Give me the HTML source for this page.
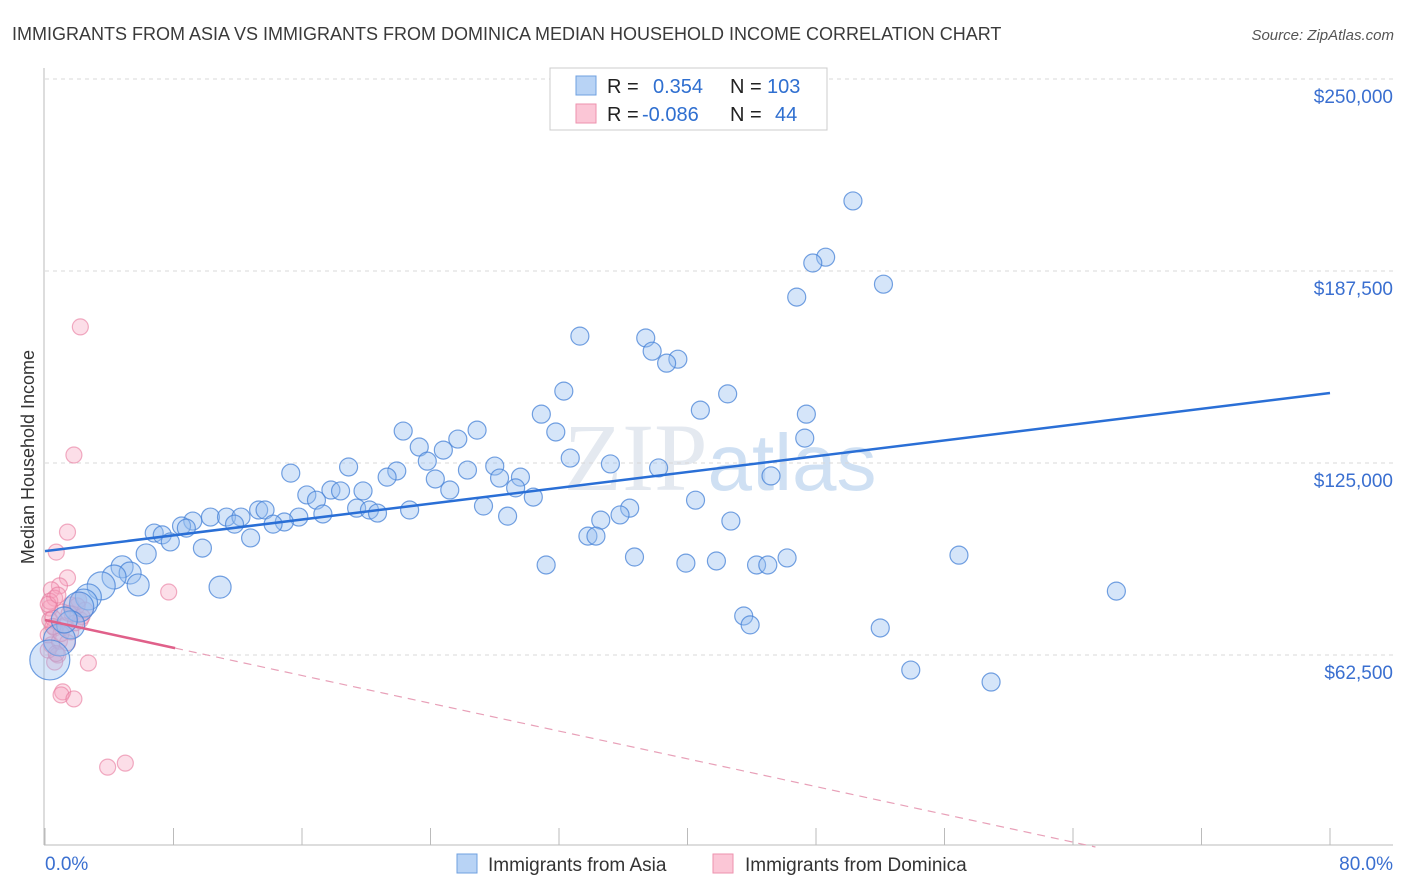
<!DOCTYPE html>
<html><head><meta charset="utf-8">
<style>
body{margin:0;background:#fff;font-family:"Liberation Sans",sans-serif;}
#wrap{position:relative;width:1406px;height:892px;overflow:hidden;}
svg{position:absolute;left:0;top:0}
</style></head>
<body>
<div id="wrap">
<svg id="chart" width="1406" height="892">
  <text x="12" y="40" font-size="18" fill="#3a3a3a">IMMIGRANTS FROM ASIA VS IMMIGRANTS FROM DOMINICA MEDIAN HOUSEHOLD INCOME CORRELATION CHART</text>
  <text x="1394" y="40" font-size="15" fill="#555" font-style="italic" text-anchor="end">Source: ZipAtlas.com</text>
  <text x="720" y="490" font-size="96" fill="#e4e9f0" text-anchor="middle" font-family="Liberation Serif,serif">ZIP<tspan fill="#cfe0f3" font-family="Liberation Sans,sans-serif" font-size="80">atlas</tspan></text>
  <text transform="translate(34,457) rotate(-90)" font-size="18" fill="#333" text-anchor="middle">Median Household Income</text>
  <g id="grid"></g><g id="axes"></g><g id="marks"></g>
  <g>
    <rect x="550" y="68" width="277" height="62" fill="#fff" stroke="#ccc"/>
    <rect x="576" y="76" width="20" height="19" fill="#b8d3f5" stroke="#6fa0e0"/>
    <rect x="576" y="104" width="20" height="19" fill="#fbc6d6" stroke="#ee92ae"/>
    <text x="607" y="93" font-size="20" fill="#222">R = <tspan x="653" fill="#2f6fd0">0.354</tspan><tspan x="730" fill="#222">N = </tspan><tspan x="767" fill="#2f6fd0">103</tspan></text>
    <text x="607" y="121" font-size="20" fill="#222">R = <tspan x="642" fill="#2f6fd0">-0.086</tspan><tspan x="730" fill="#222">N = </tspan><tspan x="775" fill="#2f6fd0">44</tspan></text>
  </g>
  <g>
    <rect x="457" y="854" width="20" height="19" fill="#b8d3f5" stroke="#6fa0e0"/>
    <text x="488" y="871" font-size="19" fill="#333">Immigrants from Asia</text>
    <rect x="713" y="854" width="20" height="19" fill="#fbc6d6" stroke="#ee92ae"/>
    <text x="745" y="871" font-size="19" fill="#333">Immigrants from Dominica</text>
  </g>
</svg>
</div>
<script>
const xTicks=[0,8,16,24,32,40,48,56,64,72,80];
const yTicks=[62.5,125,187.5,250];
const yTickLabels=["$62,500","$125,000","$187,500","$250,000"];
const xLabels=["0.0%","80.0%"];
const asiaX=[50.3,48.6,47.8,52.2,46.8,33.3,37.4,37.8,39.4,38.7,32.3,42.5,40.8,47.4,30.9,22.3,26.9,31.8,47.3,25.7,23.3,24.8,23.8,32.7,18.9,28.0,35.2,38.2,15.3,21.9,21.3,26.3,24.3,28.3,29.6,45.2,17.8,18.4,19.8,25.2,29.3,16.3,16.9,30.4,40.5,27.3,36.4,19.4,20.2,20.7,22.7,13.3,13.7,17.3,35.8,28.8,10.3,11.3,12.2,15.8,9.2,34.6,42.7,14.9,11.8,14.2,8.5,8.8,6.8,7.3,33.8,34.3,12.8,7.8,9.8,6.3,56.9,36.7,31.2,39.9,41.8,46.2,44.3,45.0,4.8,5.3,4.3,10.9,5.8,3.5,66.7,2.7,2.4,2.1,43.5,43.9,52.0,1.6,0.9,0.3,53.9,58.9,1.2];
const asiaY=[210.3,192.0,190.1,183.2,179.0,166.3,165.7,161.4,158.8,157.5,148.4,147.5,142.2,140.9,140.9,135.4,135.7,135.1,133.1,132.8,130.2,129.2,125.6,126.6,123.7,124.0,124.7,123.4,121.7,122.4,120.4,122.7,119.8,120.1,120.4,120.8,116.2,115.9,115.9,116.2,116.9,114.6,112.9,113.9,112.9,111.0,110.3,110.3,109.7,108.7,109.7,109.7,109.7,108.4,108.1,107.7,107.4,107.4,107.4,107.4,106.1,106.4,106.1,105.8,105.1,105.1,104.5,103.8,102.2,101.6,101.2,101.2,100.6,99.3,97.3,95.4,95.0,94.4,91.8,92.4,93.1,94.1,91.8,91.8,91.2,89.2,87.9,84.6,85.3,85.0,83.3,81.4,79.4,78.1,75.2,72.3,71.3,72.3,67.4,60.9,57.6,53.7,73.9];
const asiaSize=[9,9,9,9,9,9,9,9,9,9,9,9,9,9,9,9,9,9,9,9,9,9,9,9,9,9,9,9,9,9,9,9,9,9,9,9,9,9,9,9,9,9,9,9,9,9,9,9,9,9,9,9,9,9,9,9,9,9,9,9,9,9,9,9,9,9,9,9,9,9,9,9,9,9,9,10,9,9,9,9,9,9,9,9,11,11,12,11,11,14,9,13,14,15,9,9,9,14,16,20,9,9,13];
const domX=[2.2,1.8,1.4,0.7,1.4,0.9,0.4,7.7,0.6,2.1,1.6,0.3,1.1,0.3,1.7,0.6,0.2,1.6,0.4,0.8,0.6,2.7,1.1,1.0,1.8,3.9,5.0,0.2,2.2,2.5,0.5,1.2,0.9,2.0,0.3,1.4,0.7,2.3,1.0,0.5,1.5,0.2,0.8,1.9];
const domY=[169.3,127.6,102.5,96.0,87.6,85.0,83.7,83.0,81.0,80.4,78.8,77.8,76.5,73.9,75.8,71.3,69.0,70.0,65.8,62.5,60.2,59.9,50.5,49.5,48.2,26.0,27.3,64.1,73.9,77.1,74.5,72.0,67.0,78.5,80.0,66.5,63.0,75.0,69.5,71.8,76.0,79.0,82.0,73.0];
const blueTrend=[96.3,147.8];
const pinkTrend=[73.9,-1.13];
const X0=45,X1=1330,YB=847,YS=576/187.5;
function sx(v){return X0+v*(X1-X0)/80;}
function sy(v){return YB-v*YS;}
const NS="http://www.w3.org/2000/svg";
function mk(tag,attrs,parent){const e=document.createElementNS(NS,tag);for(const k in attrs)e.setAttribute(k,attrs[k]);parent.appendChild(e);return e;}
const grid=document.getElementById('grid'),axes=document.getElementById('axes'),marks=document.getElementById('marks');
yTicks.forEach((t,i)=>{
  const l=mk('line',{x1:45,x2:1393,y1:sy(t),y2:sy(t),stroke:'#d8d8d8','stroke-dasharray':'4,4'},grid);
  
  
  const tx=mk('text',{x:1393,y:sy(t)+24,'font-size':19,fill:'#3a6fd0','text-anchor':'end'},axes);
  tx.textContent=yTickLabels[i];
  
  
});
const ax=mk('line',{x1:44,x2:44,y1:68,y2:845,stroke:'#bbb'},axes);


const bx=mk('line',{x1:44,x2:1393,y1:845,y2:845,stroke:'#bbb'},axes);


xTicks.forEach(t=>{
  const l=mk('line',{x1:sx(t),x2:sx(t),y1:828,y2:845,stroke:'#bbb'},axes);
  
  
});
const xl0=mk('text',{x:45,y:870,'font-size':19,fill:'#3a6fd0'},axes);xl0.textContent=xLabels[0];


const xl1=mk('text',{x:1393,y:870,'font-size':19,fill:'#3a6fd0','text-anchor':'end'},axes);xl1.textContent=xLabels[1];


domX.forEach((v,i)=>{
  const c=mk('circle',{cx:sx(v),cy:sy(domY[i]),r:8,fill:'rgba(246,160,188,0.35)',stroke:'rgba(232,120,156,0.6)','stroke-width':1.2},marks);
  
  
});
asiaX.forEach((v,i)=>{
  const c=mk('circle',{cx:sx(v),cy:sy(asiaY[i]),r:asiaSize[i],fill:'rgba(150,190,240,0.4)',stroke:'rgba(70,130,215,0.75)','stroke-width':1.2},marks);
  
  
});
const bl=mk('line',{x1:sx(0),y1:sy(blueTrend[0]),x2:sx(80),y2:sy(blueTrend[1]),stroke:'#2a6fd6','stroke-width':2.5},marks);


const xz=-pinkTrend[0]/pinkTrend[1];
const pd=mk('line',{x1:sx(8.1),y1:sy(pinkTrend[0]+pinkTrend[1]*8.1),x2:sx(xz),y2:sy(0),stroke:'#e8a0b8','stroke-width':1.2,'stroke-dasharray':'8,6'},marks);


const ps=mk('line',{x1:sx(0),y1:sy(pinkTrend[0]),x2:sx(8.1),y2:sy(pinkTrend[0]+pinkTrend[1]*8.1),stroke:'#e0608a','stroke-width':2.5},marks);


</script>
</body></html>
